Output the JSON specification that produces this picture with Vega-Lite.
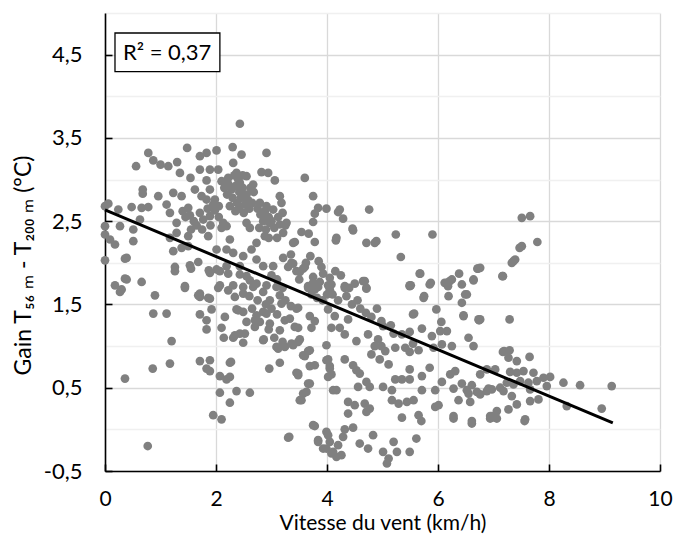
{
  "$schema": "https://vega.github.io/schema/vega-lite/v6.json",
  "width": 555,
  "height": 458,
  "autosize": {"type": "none"},
  "padding": {"left": 105, "top": 13, "right": 14, "bottom": 71},
  "background": "white",
  "config": {"view": {"stroke": null}, "font": "Lato"},
  "datasets": {
    "points": [
      {"v":2.43,"g":3.67},{"v":0.78,"g":3.32},{"v":1.48,"g":3.38},{"v":0.87,"g":3.23},{"v":1.0,"g":3.18},{"v":1.14,"g":3.16},{"v":0.56,"g":3.16},{"v":1.30,"g":3.21},{"v":1.35,"g":3.08},{"v":1.54,"g":3.02},{"v":1.71,"g":3.28},{"v":1.83,"g":3.32},{"v":2.01,"g":3.35},{"v":2.30,"g":3.39},{"v":2.46,"g":3.30},{"v":2.91,"g":3.32},{"v":1.89,"g":3.12},{"v":2.04,"g":3.12},{"v":1.71,"g":3.12},{"v":1.83,"g":2.99},{"v":1.62,"g":2.88},{"v":2.31,"g":3.20},{"v":2.37,"g":3.08},{"v":2.22,"g":3.02},{"v":2.10,"g":2.98},{"v":2.43,"g":2.96},{"v":2.55,"g":3.04},{"v":2.67,"g":2.94},{"v":2.82,"g":3.09},{"v":2.94,"g":3.08},{"v":3.06,"g":2.99},{"v":0.68,"g":2.88},{"v":0.68,"g":2.83},{"v":0.96,"g":2.80},{"v":1.23,"g":2.84},{"v":1.38,"g":2.80},{"v":1.11,"g":2.70},{"v":0.06,"g":2.71},{"v":0.0,"g":2.68},{"v":0.24,"g":2.64},{"v":0.48,"g":2.67},{"v":0.66,"g":2.66},{"v":0.78,"g":2.67},{"v":1.17,"g":2.60},{"v":1.29,"g":2.48},{"v":1.50,"g":2.66},{"v":1.53,"g":2.57},{"v":1.71,"g":2.60},{"v":1.77,"g":2.52},{"v":1.89,"g":2.56},{"v":1.98,"g":2.63},{"v":1.89,"g":2.88},{"v":1.83,"g":2.76},{"v":1.98,"g":2.76},{"v":1.74,"g":2.80},{"v":2.13,"g":2.48},{"v":2.19,"g":2.44},{"v":2.55,"g":2.48},{"v":2.61,"g":2.42},{"v":2.79,"g":2.72},{"v":2.91,"g":2.68},{"v":3.03,"g":2.64},{"v":3.15,"g":2.80},{"v":3.18,"g":2.72},{"v":2.91,"g":2.56},{"v":2.97,"g":2.48},{"v":3.15,"g":2.46},{"v":3.27,"g":2.48},{"v":3.39,"g":2.24},{"v":3.21,"g":2.36},{"v":2.88,"g":2.32},{"v":2.73,"g":2.24},{"v":2.64,"g":2.16},{"v":2.49,"g":2.08},{"v":2.31,"g":2.12},{"v":2.19,"g":2.16},{"v":2.25,"g":2.28},{"v":2.01,"g":2.16},{"v":1.86,"g":2.32},{"v":1.50,"g":2.32},{"v":1.50,"g":2.20},{"v":1.38,"g":2.18},{"v":1.23,"g":2.14},{"v":1.17,"g":2.30},{"v":1.29,"g":2.36},{"v":0.0,"g":2.44},{"v":0.0,"g":2.34},{"v":0.09,"g":2.28},{"v":0.18,"g":2.22},{"v":0.27,"g":2.44},{"v":0.51,"g":2.40},{"v":0.51,"g":2.26},{"v":0.39,"g":2.06},{"v":0.0,"g":2.03},{"v":0.63,"g":2.52},{"v":1.26,"g":1.95},{"v":1.53,"g":1.97},{"v":1.68,"g":2.01},{"v":1.89,"g":1.88},{"v":2.01,"g":1.92},{"v":2.19,"g":1.96},{"v":2.43,"g":1.96},{"v":2.55,"g":1.84},{"v":2.73,"g":2.04},{"v":2.85,"g":1.96},{"v":3.03,"g":1.96},{"v":3.21,"g":2.06},{"v":3.36,"g":2.00},{"v":3.45,"g":1.90},{"v":0.18,"g":1.73},{"v":0.36,"g":1.81},{"v":0.66,"g":1.77},{"v":1.44,"g":1.72},{"v":2.07,"g":1.73},{"v":2.73,"g":1.75},{"v":3.09,"g":1.71},
      {"v":2.22,"g":2.95},{"v":2.28,"g":2.88},{"v":2.35,"g":2.92},{"v":2.42,"g":2.85},{"v":2.48,"g":2.90},{"v":2.55,"g":2.82},{"v":2.30,"g":2.78},{"v":2.38,"g":2.72},{"v":2.45,"g":2.78},{"v":2.52,"g":2.70},{"v":2.25,"g":2.68},{"v":2.35,"g":2.62},{"v":2.42,"g":2.65},{"v":2.50,"g":2.60},{"v":2.58,"g":2.75},{"v":2.62,"g":2.90},{"v":2.68,"g":2.85},{"v":2.40,"g":3.00},{"v":2.48,"g":3.05},{"v":2.33,"g":3.05},{"v":2.20,"g":2.82},{"v":2.15,"g":2.90},{"v":2.60,"g":2.65},{"v":2.65,"g":2.72},
      {"v":2.75,"g":2.65},{"v":2.80,"g":2.58},{"v":2.88,"g":2.62},{"v":2.95,"g":2.55},{"v":3.00,"g":2.50},{"v":2.85,"g":2.50},{"v":2.78,"g":2.42},{"v":2.90,"g":2.40},{"v":3.05,"g":2.42},{"v":3.12,"g":2.55},{"v":3.20,"g":2.60},{"v":3.25,"g":2.45},{"v":2.95,"g":2.30},{"v":3.10,"g":2.30},
      {"v":1.40,"g":2.62},{"v":1.45,"g":2.55},{"v":1.60,"g":2.50},{"v":1.65,"g":2.45},{"v":1.55,"g":2.40},{"v":1.75,"g":2.40},{"v":1.90,"g":2.45},{"v":2.05,"g":2.55},{"v":2.10,"g":2.42},{"v":1.85,"g":2.65},{"v":1.95,"g":2.70},{"v":2.05,"g":2.68},
      {"v":3.60,"g":3.02},{"v":3.75,"g":2.80},{"v":3.84,"g":2.66},{"v":3.99,"g":2.65},{"v":3.78,"g":2.59},{"v":3.75,"g":2.49},{"v":4.20,"g":2.61},{"v":4.29,"g":2.53},{"v":4.76,"g":2.64},{"v":4.47,"g":2.39},{"v":3.54,"g":2.37},{"v":3.67,"g":2.35},{"v":3.42,"g":2.25},{"v":3.78,"g":2.25},{"v":4.16,"g":2.27},{"v":4.71,"g":2.24},{"v":4.86,"g":2.24},{"v":5.24,"g":2.34},{"v":5.90,"g":2.34},{"v":5.33,"g":2.07},{"v":5.68,"g":1.87},{"v":6.72,"g":1.93},{"v":6.38,"g":1.87},{"v":6.25,"g":1.80},{"v":6.16,"g":1.76},{"v":5.87,"g":1.76},{"v":5.51,"g":1.73},{"v":6.64,"g":1.79},{"v":6.43,"g":1.74},{"v":3.93,"g":1.87},{"v":3.90,"g":1.95},{"v":3.60,"g":1.95},{"v":3.51,"g":1.89},{"v":3.75,"g":1.76},{"v":3.66,"g":1.72},{"v":4.05,"g":1.82},{"v":4.08,"g":1.74},{"v":4.32,"g":1.72},{"v":4.68,"g":1.78},
      {"v":4.23,"g":2.64},{"v":4.17,"g":2.30},{"v":4.46,"g":2.41},{"v":4.89,"g":2.26},{"v":7.17,"g":1.84},{"v":6.71,"g":1.93},{"v":6.21,"g":1.78},{"v":6.12,"g":1.76},{"v":6.52,"g":1.62},{"v":6.43,"g":1.52},{"v":6.46,"g":1.37},{"v":6.64,"g":1.80},{"v":6.74,"g":1.31},{"v":7.29,"g":1.32},{"v":5.85,"g":1.74},{"v":5.67,"g":1.87},{"v":5.49,"g":1.73},{"v":5.75,"g":1.60},{"v":5.97,"g":1.44},{"v":6.06,"g":1.29},{"v":5.57,"g":1.39},{"v":4.65,"g":1.78},{"v":4.71,"g":1.70},{"v":7.65,"g":0.87},{"v":7.29,"g":0.95},{"v":7.17,"g":0.93},{"v":7.56,"g":0.10},{"v":7.06,"g":0.13},{"v":6.94,"g":0.13},{"v":6.61,"g":0.07},{"v":6.28,"g":0.13},
      {"v":0.27,"g":1.65},{"v":0.90,"g":1.61},{"v":1.44,"g":1.70},{"v":1.68,"g":1.61},{"v":1.86,"g":1.58},{"v":1.71,"g":1.63},{"v":2.04,"g":1.70},{"v":2.22,"g":1.67},{"v":2.34,"g":1.59},{"v":2.49,"g":1.63},{"v":2.67,"g":1.71},{"v":2.31,"g":1.73},{"v":2.91,"g":1.73},{"v":2.97,"g":1.55},{"v":3.15,"g":1.61},{"v":3.18,"g":1.51},{"v":0.87,"g":1.39},{"v":1.11,"g":1.39},{"v":1.71,"g":1.38},{"v":1.83,"g":1.31},{"v":1.83,"g":1.20},{"v":1.92,"g":1.44},{"v":2.16,"g":1.35},{"v":2.10,"g":1.22},{"v":2.14,"g":1.10},{"v":2.34,"g":1.13},{"v":2.37,"g":1.44},{"v":2.49,"g":1.41},{"v":2.55,"g":1.29},{"v":2.52,"g":1.15},{"v":2.49,"g":1.04},{"v":2.73,"g":1.37},{"v":2.79,"g":1.29},{"v":2.85,"g":1.41},{"v":2.70,"g":1.23},{"v":2.97,"g":1.27},{"v":3.15,"g":1.19},{"v":3.24,"g":1.31},{"v":3.33,"g":1.33},{"v":3.42,"g":1.23},{"v":3.45,"g":1.45},{"v":2.86,"g":1.08},{"v":3.12,"g":0.97},{"v":3.24,"g":0.99},{"v":3.39,"g":1.01},{"v":1.20,"g":1.06},{"v":1.71,"g":0.82},{"v":1.89,"g":0.83},{"v":1.83,"g":0.73},{"v":1.89,"g":0.70},{"v":1.17,"g":0.79},{"v":0.86,"g":0.73},{"v":0.36,"g":0.61},{"v":2.27,"g":0.81},{"v":2.07,"g":0.64},{"v":2.19,"g":0.60},{"v":2.25,"g":0.63},{"v":2.96,"g":0.73},{"v":3.15,"g":0.80},{"v":3.45,"g":0.68},{"v":2.07,"g":0.44},{"v":2.37,"g":0.46},{"v":2.61,"g":0.44},{"v":2.25,"g":0.32},{"v":1.95,"g":0.17},{"v":2.10,"g":0.12},{"v":3.51,"g":0.35},{"v":3.30,"g":-0.10},{"v":0.77,"g":-0.20},
      {"v":0.36,"g":2.05},{"v":0.30,"g":1.68},{"v":0.39,"g":1.80},{"v":1.26,"g":1.90},{"v":1.55,"g":1.93},{"v":1.87,"g":1.91},{"v":2.07,"g":1.90},{"v":2.22,"g":1.87},{"v":2.43,"g":1.86},{"v":2.61,"g":1.79},{"v":2.49,"g":1.71},{"v":2.85,"g":1.65},{"v":3.39,"g":1.99},{"v":3.57,"g":1.93},{"v":3.75,"g":1.83},{"v":3.87,"g":1.77},{"v":4.02,"g":1.73},{"v":3.84,"g":1.71},{"v":1.71,"g":1.59},{"v":1.89,"g":1.57},{"v":2.40,"g":1.43},{"v":2.70,"g":1.31},{"v":2.91,"g":1.39},{"v":2.43,"g":1.15},{"v":2.85,"g":1.07},{"v":2.31,"g":1.10},{"v":3.09,"g":0.99},{"v":3.36,"g":1.03},{"v":3.48,"g":1.05},{"v":3.57,"g":0.89},{"v":3.69,"g":0.95},{"v":3.78,"g":0.77},{"v":3.99,"g":1.01},{"v":3.99,"g":0.83},{"v":4.05,"g":0.73},{"v":4.02,"g":0.63},{"v":3.48,"g":0.65},{"v":3.66,"g":0.55},{"v":3.57,"g":0.43},{"v":4.11,"g":0.47},{"v":3.75,"g":0.05},{"v":3.84,"g":-0.13},{"v":3.99,"g":-0.03},{"v":3.93,"g":-0.23},{"v":4.08,"g":-0.29},{"v":3.32,"g":-0.09},{"v":2.25,"g":0.80},{"v":3.00,"g":1.85},{"v":3.10,"g":1.80},{"v":3.20,"g":1.70},{"v":3.30,"g":1.95},{"v":3.35,"g":2.10},{"v":3.62,"g":2.00},{"v":3.70,"g":2.08},{"v":3.85,"g":2.02},{"v":3.50,"g":1.80},{"v":3.72,"g":1.62},{"v":3.82,"g":1.58},{"v":3.92,"g":1.55},{"v":4.00,"g":1.62},{"v":2.60,"g":1.60},{"v":2.75,"g":1.55},{"v":2.90,"g":1.50},{"v":3.00,"g":1.45},{"v":3.10,"g":1.38},{"v":3.25,"g":1.55},{"v":3.35,"g":1.48},{"v":2.65,"g":1.45},{"v":2.95,"g":1.20},{"v":3.05,"g":1.10},{"v":3.20,"g":1.05},{"v":4.15,"g":1.90},{"v":4.25,"g":1.85},{"v":4.10,"g":1.62},{"v":4.20,"g":1.55},{"v":4.35,"g":1.60},{"v":4.45,"g":1.50},{"v":4.55,"g":1.55},{"v":4.60,"g":1.45},{"v":4.70,"g":1.40},{"v":4.80,"g":1.35},{"v":4.90,"g":1.45},{"v":5.15,"g":1.25},{"v":5.20,"g":1.15},{"v":4.50,"g":1.75},{"v":4.40,"g":1.70},
      {"v":3.66,"g":1.70},{"v":3.78,"g":1.68},{"v":4.05,"g":1.68},{"v":4.32,"g":1.70},{"v":4.71,"g":1.69},{"v":5.49,"g":1.72},{"v":6.18,"g":1.72},{"v":6.49,"g":1.62},{"v":5.74,"g":1.58},{"v":6.19,"g":1.60},{"v":5.55,"g":1.38},{"v":6.46,"g":1.36},{"v":6.73,"g":1.32},{"v":3.48,"g":1.46},{"v":3.69,"g":1.36},{"v":3.78,"g":1.30},{"v":3.72,"g":1.22},{"v":4.02,"g":1.44},{"v":4.14,"g":1.36},{"v":4.08,"g":1.22},{"v":4.23,"g":1.22},{"v":4.32,"g":1.14},{"v":4.38,"g":1.32},{"v":3.48,"g":1.22},{"v":3.51,"g":1.08},{"v":3.66,"g":0.94},{"v":3.60,"g":0.88},{"v":4.53,"g":1.06},{"v":4.74,"g":1.14},{"v":4.92,"g":1.08},{"v":4.86,"g":1.00},{"v":4.98,"g":1.30},{"v":5.01,"g":1.24},{"v":5.23,"g":0.98},{"v":5.35,"g":1.14},{"v":4.98,"g":1.00},{"v":5.05,"g":0.94},{"v":4.80,"g":0.90},{"v":4.95,"g":0.84},{"v":5.11,"g":0.78},{"v":5.41,"g":0.98},{"v":5.49,"g":0.93},{"v":5.65,"g":0.95},{"v":5.55,"g":1.03},{"v":5.71,"g":1.21},{"v":5.49,"g":1.17},{"v":5.89,"g":1.12},{"v":6.04,"g":1.18},{"v":6.16,"g":1.18},{"v":5.92,"g":0.98},{"v":6.07,"g":1.02},{"v":6.25,"g":1.00},{"v":6.55,"g":1.10},{"v":6.64,"g":1.00},{"v":3.69,"g":0.76},{"v":3.48,"g":0.67},{"v":4.02,"g":0.84},{"v":4.05,"g":0.76},{"v":4.08,"g":0.66},{"v":4.32,"g":0.84},{"v":4.47,"g":0.77},{"v":4.53,"g":0.71},{"v":4.59,"g":0.67},{"v":3.69,"g":0.55},{"v":3.63,"g":0.45},{"v":3.54,"g":0.35},{"v":4.17,"g":0.47},{"v":4.56,"g":0.51},{"v":4.71,"g":0.57},{"v":4.77,"g":0.51},{"v":5.01,"g":0.51},{"v":5.17,"g":0.47},{"v":5.23,"g":0.60},{"v":5.35,"g":0.60},{"v":5.49,"g":0.60},{"v":5.49,"g":0.72},{"v":5.71,"g":0.64},{"v":5.85,"g":0.74},{"v":5.71,"g":0.47},{"v":5.95,"g":0.47},{"v":6.07,"g":0.57},{"v":6.22,"g":0.66},{"v":6.31,"g":0.70},{"v":6.28,"g":0.49},{"v":6.43,"g":0.55},{"v":6.52,"g":0.47},{"v":6.61,"g":0.53},{"v":6.70,"g":0.45},{"v":6.55,"g":0.43},{"v":6.91,"g":0.49},{"v":4.38,"g":0.33},{"v":4.50,"g":0.29},{"v":4.68,"g":0.31},{"v":4.77,"g":0.25},{"v":4.71,"g":0.21},{"v":5.17,"g":0.35},{"v":5.29,"g":0.31},{"v":5.44,"g":0.33},{"v":5.56,"g":0.35},{"v":6.01,"g":0.29},{"v":5.95,"g":0.27},{"v":6.37,"g":0.35},{"v":6.58,"g":0.33},{"v":4.38,"g":0.19},{"v":5.35,"g":0.14},{"v":5.65,"g":0.17},{"v":5.70,"g":0.10},{"v":6.28,"g":0.16},{"v":6.61,"g":0.10},{"v":6.97,"g":0.16},{"v":3.78,"g":0.04},{"v":4.32,"g":0.00},{"v":4.47,"g":0.02},{"v":4.29,"g":-0.09},{"v":3.84,"g":-0.15},{"v":4.02,"g":-0.07},{"v":4.05,"g":-0.15},{"v":3.99,"g":-0.23},{"v":4.11,"g":-0.27},{"v":4.20,"g":-0.19},{"v":4.17,"g":-0.33},{"v":4.26,"g":-0.31},{"v":4.59,"g":-0.17},{"v":4.74,"g":-0.23},{"v":4.83,"g":-0.07},{"v":5.01,"g":-0.27},{"v":5.11,"g":-0.35},{"v":5.20,"g":-0.15},{"v":5.26,"g":-0.27},{"v":5.08,"g":-0.41},{"v":5.49,"g":-0.27},{"v":5.61,"g":-0.11},
      {"v":7.51,"g":2.54},{"v":7.66,"g":2.56},{"v":7.79,"g":2.25},{"v":7.47,"g":2.18},{"v":7.51,"g":2.20},{"v":7.36,"g":2.02},{"v":7.33,"g":2.00},{"v":7.39,"g":2.04},{"v":7.16,"g":1.84},{"v":6.76,"g":1.94},{"v":6.76,"g":1.32},{"v":7.19,"g":0.94},{"v":7.27,"g":0.86},{"v":7.42,"g":0.82},{"v":6.88,"g":0.72},{"v":7.03,"g":0.72},{"v":6.76,"g":0.66},{"v":7.30,"g":0.69},{"v":7.42,"g":0.68},{"v":7.54,"g":0.70},{"v":7.72,"g":0.68},{"v":7.90,"g":0.62},{"v":8.02,"g":0.63},{"v":7.96,"g":0.52},{"v":7.78,"g":0.58},{"v":7.63,"g":0.56},{"v":7.48,"g":0.58},{"v":7.36,"g":0.54},{"v":7.24,"g":0.56},{"v":7.12,"g":0.50},{"v":6.97,"g":0.48},{"v":6.88,"g":0.46},{"v":6.76,"g":0.42},{"v":7.18,"g":0.46},{"v":7.33,"g":0.40},{"v":7.66,"g":0.48},{"v":7.81,"g":0.36},{"v":7.66,"g":0.34},{"v":7.42,"g":0.30},{"v":7.27,"g":0.24},{"v":7.06,"g":0.22},{"v":6.94,"g":0.16},{"v":7.03,"g":0.14},{"v":7.57,"g":0.12},{"v":8.32,"g":0.28},{"v":8.26,"g":0.56},{"v":8.56,"g":0.53},{"v":9.13,"g":0.52},{"v":8.95,"g":0.25}
    ],
    "trend": [{"v": 0, "g": 2.635}, {"v": 9.15, "g": 0.078}],
    "note": [{"label": "R² = 0,37"}]
  },
  "layer": [
    {
      "data": {"name": "points"},
      "mark": {"type": "circle", "size": 76, "color": "#808080", "opacity": 1},
      "encoding": {
        "x": {
          "field": "v", "type": "quantitative",
          "scale": {"domain": [0, 10], "nice": false, "zero": false},
          "axis": {
            "values": [0, 2, 4, 6, 8, 10],
            "grid": true, "gridColor": "#d9d9d9", "gridWidth": 1.3,
            "domainColor": "#000000", "domainWidth": 1.6,
            "tickColor": "#000000", "tickWidth": 1.6, "tickSize": -7,
            "labelFont": "Lato", "labelFontSize": 21, "labelColor": "#000000",
            "labelPadding": 24, "labelFlush": false, "labelOverlap": false,
            "title": "Vitesse du vent (km/h)", "titleFont": "Lato", "titleFontSize": 21,
            "titleFontWeight": "normal", "titleColor": "#000000", "titlePadding": 3
          }
        },
        "y": {
          "field": "g", "type": "quantitative",
          "scale": {"domain": [-0.5, 5], "nice": false, "zero": false},
          "axis": {
            "values": [-0.5, 0, 0.5, 1, 1.5, 2, 2.5, 3, 3.5, 4, 4.5, 5],
            "grid": true,
            "gridColor": {"condition": {"test": "datum.value % 1 != 0", "value": "#d9d9d9"}, "value": "#f0f0f0"},
            "gridWidth": 1.3,
            "domainColor": "#000000", "domainWidth": 1.6,
            "tickColor": "#000000", "tickWidth": 1.6, "tickSize": -7,
            "tickOpacity": {"condition": {"test": "datum.value % 1 != 0", "value": 1}, "value": 0},
            "labelExpr": "datum.value % 1 != 0 ? replace(replace(format(datum.value, '.1f'), '.', ','), '−', '-') : ''",
            "labelFont": "Lato", "labelFontSize": 22, "labelColor": "#000000",
            "labelPadding": 30, "labelOverlap": false,
            "title": "Gain  T₅₆ ₘ - T₂₀₀ ₘ (°C)", "titleFont": "Lato", "titleFontSize": 23,
            "titleFontWeight": "normal", "titleColor": "#000000", "titlePadding": 8,
            "titleY": 252
          }
        }
      }
    },
    {
      "data": {"name": "trend"},
      "mark": {"type": "line", "color": "#000000", "strokeWidth": 3},
      "encoding": {
        "x": {"field": "v", "type": "quantitative"},
        "y": {"field": "g", "type": "quantitative"}
      }
    },
    {
      "data": {"name": "note"},
      "mark": {"type": "rect", "fill": "#ffffff", "stroke": "#000000", "strokeWidth": 1.3},
      "encoding": {
        "x": {"datum": 0.18, "type": "quantitative"},
        "x2": {"datum": 2.07},
        "y": {"datum": 4.76, "type": "quantitative"},
        "y2": {"datum": 4.295}
      }
    },
    {
      "data": {"name": "note"},
      "mark": {"type": "text", "font": "Lato", "fontSize": 22, "color": "#000000", "align": "center", "baseline": "middle"},
      "encoding": {
        "x": {"datum": 1.12, "type": "quantitative"},
        "y": {"datum": 4.52, "type": "quantitative"},
        "text": {"field": "label", "type": "nominal"}
      }
    }
  ]
}
